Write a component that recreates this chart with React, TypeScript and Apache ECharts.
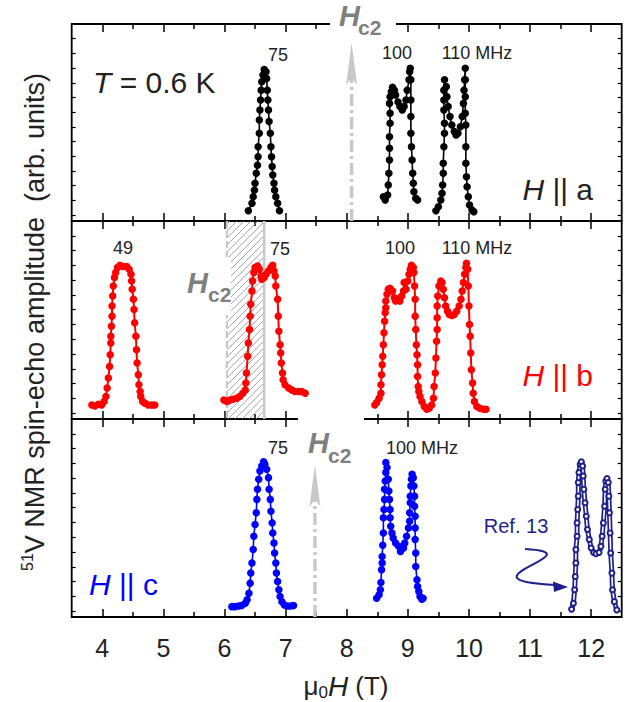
import React, { useEffect, useRef } from "react";
import * as echarts from "echarts";

// ---------- axes ----------
const xTicksMajor = [4, 5, 6, 7, 8, 9, 10, 11, 12];
const xTicksMinor = [4.5, 5.5, 6.5, 7.5, 8.5, 9.5, 10.5, 11.5];
const yTicks = [0.4, 1.4, 2.4, 3.4, 4.4, 5.4, 6.4, 7.4, 8.4, 9.4, 10.4, 11.4, 12.4];

// ---------- H || a (black) ----------
const a75 = [[6.39,0.7],[6.45,1.2],[6.47,1.65],[6.49,2.1],[6.5,2.56],[6.52,3.24],[6.54,3.8],[6.55,4.37],[6.55,5.05],[6.57,5.97],[6.57,6.87],[6.58,7.55],[6.59,8.23],[6.6,8.9],[6.61,9.48],[6.63,9.93],[6.65,10.3],[6.68,10.16],[6.69,9.7],[6.7,8.9],[6.71,8.23],[6.72,7.55],[6.73,6.76],[6.75,5.97],[6.76,5.05],[6.77,4.37],[6.78,3.7],[6.79,3.13],[6.81,2.56],[6.82,2.1],[6.84,1.65],[6.87,1.2],[6.9,0.7]];
const a100 = [[8.6,1.65],[8.63,1.43],[8.67,1.77],[8.68,2.45],[8.69,3.24],[8.7,4.15],[8.7,4.95],[8.7,5.73],[8.71,6.65],[8.71,7.33],[8.7,8.0],[8.71,8.45],[8.73,8.8],[8.75,9.1],[8.78,8.9],[8.8,8.57],[8.84,8.1],[8.87,7.78],[8.91,7.55],[8.94,7.78],[8.97,8.23],[8.99,8.9],[9.02,9.6],[9.03,10.16],[9.04,10.39],[9.05,9.6],[9.05,8.23],[9.05,7.1],[9.05,5.97],[9.06,5.05],[9.07,4.15],[9.08,3.24],[9.09,2.56],[9.1,1.99],[9.13,1.54],[9.16,1.43]];
const a110 = [[9.46,0.7],[9.5,0.97],[9.54,1.43],[9.56,1.88],[9.57,2.45],[9.58,3.24],[9.58,3.92],[9.59,5.05],[9.6,5.97],[9.6,6.65],[9.59,7.55],[9.59,8.23],[9.59,8.9],[9.6,9.6],[9.63,9.14],[9.64,8.45],[9.66,7.78],[9.69,7.1],[9.72,6.53],[9.76,6.08],[9.79,5.85],[9.82,5.97],[9.86,6.41],[9.89,7.1],[9.91,8.0],[9.92,8.9],[9.93,9.6],[9.94,10.39],[9.94,9.6],[9.94,8.45],[9.94,7.33],[9.95,6.53],[9.95,5.05],[9.95,3.92],[9.96,3.01],[9.97,2.33],[9.99,1.65],[10.01,1.09],[10.05,0.75],[10.08,0.63]];

// ---------- H || b (red) ----------
const b49 = [[3.83,0.95],[3.88,0.88],[3.94,1.0],[3.99,0.95],[4.03,1.18],[4.06,1.52],[4.08,2.09],[4.1,2.77],[4.12,3.56],[4.13,4.35],[4.14,5.15],[4.14,5.6],[4.15,6.28],[4.16,6.96],[4.16,7.64],[4.17,8.32],[4.18,9.0],[4.2,9.57],[4.22,9.91],[4.25,10.25],[4.29,10.41],[4.34,10.32],[4.4,10.32],[4.44,10.14],[4.47,9.8],[4.48,9.34],[4.49,8.78],[4.51,8.1],[4.52,7.41],[4.53,6.51],[4.55,5.6],[4.56,4.69],[4.57,3.79],[4.59,2.99],[4.6,2.31],[4.62,1.86],[4.63,1.52],[4.66,1.18],[4.7,1.07],[4.75,0.95],[4.81,0.95],[4.86,0.95]];
const b75 = [[5.99,1.29],[6.04,1.18],[6.09,1.29],[6.14,1.34],[6.2,1.41],[6.25,1.52],[6.3,1.75],[6.34,1.97],[6.35,2.43],[6.36,3.11],[6.38,4.24],[6.39,5.15],[6.41,6.05],[6.42,6.96],[6.43,7.76],[6.45,8.66],[6.46,9.34],[6.48,9.91],[6.5,10.25],[6.54,10.36],[6.57,10.14],[6.6,9.68],[6.61,9.46],[6.65,9.57],[6.68,9.8],[6.72,10.02],[6.76,10.25],[6.79,10.41],[6.81,10.02],[6.83,9.68],[6.84,9.0],[6.87,8.1],[6.88,6.96],[6.89,5.94],[6.91,5.03],[6.92,4.47],[6.93,3.79],[6.95,3.11],[6.96,2.65],[6.99,2.31],[7.05,2.09],[7.1,1.97],[7.15,1.86],[7.21,1.86],[7.26,1.86],[7.32,1.75]];
const b100 = [[8.46,0.95],[8.49,1.11],[8.53,1.41],[8.56,1.75],[8.56,2.31],[8.57,2.99],[8.58,3.67],[8.59,4.24],[8.6,5.03],[8.61,5.83],[8.62,6.62],[8.63,7.19],[8.64,7.53],[8.64,7.98],[8.66,8.44],[8.68,8.78],[8.71,8.84],[8.75,8.66],[8.78,8.21],[8.8,7.98],[8.85,8.14],[8.87,7.98],[8.9,8.32],[8.93,8.66],[8.94,9.23],[8.97,8.78],[9.0,9.34],[9.02,9.8],[9.04,10.14],[9.06,10.41],[9.09,10.25],[9.1,9.91],[9.11,9.0],[9.12,8.1],[9.12,6.96],[9.13,6.05],[9.14,5.03],[9.15,4.35],[9.16,3.67],[9.16,2.88],[9.17,2.2],[9.18,1.86],[9.2,1.52],[9.23,1.18],[9.27,0.84],[9.31,0.66],[9.35,0.73],[9.39,0.95],[9.42,1.41],[9.43,2.2],[9.45,3.11],[9.46,4.13],[9.47,5.26],[9.48,6.05],[9.48,6.85],[9.48,7.64],[9.49,8.32],[9.51,9.0],[9.54,9.34],[9.56,9.23],[9.58,8.78],[9.6,8.21],[9.62,7.64],[9.65,7.3],[9.68,7.07],[9.72,7.0],[9.76,7.07],[9.8,7.3],[9.84,7.64],[9.87,8.1],[9.89,8.66],[9.91,9.23],[9.93,9.8],[9.95,10.25],[9.96,10.54],[9.98,10.14],[9.99,9.0],[10.0,7.64],[10.01,6.39],[10.02,5.6],[10.03,4.47],[10.04,3.33],[10.06,2.43],[10.07,1.75],[10.09,1.18],[10.13,0.84],[10.18,0.73],[10.24,0.66],[10.28,0.66]];

// ---------- H || c (blue) ----------
const c75 = [[6.12,0.7],[6.17,0.7],[6.23,0.75],[6.28,0.77],[6.34,0.93],[6.37,1.16],[6.4,1.61],[6.42,2.29],[6.43,2.97],[6.45,3.65],[6.47,4.56],[6.48,5.46],[6.5,6.26],[6.52,7.05],[6.53,7.96],[6.54,8.64],[6.56,9.32],[6.58,9.88],[6.61,10.22],[6.64,10.5],[6.66,10.34],[6.69,10.0],[6.72,9.43],[6.73,8.64],[6.75,7.96],[6.76,7.16],[6.78,6.37],[6.79,5.69],[6.81,5.01],[6.82,4.33],[6.84,3.65],[6.85,2.97],[6.87,2.4],[6.89,1.84],[6.91,1.38],[6.94,1.04],[6.98,0.82],[7.03,0.75],[7.08,0.75],[7.13,0.77]];
const c100 = [[8.49,1.27],[8.53,1.5],[8.55,1.84],[8.56,2.33],[8.57,3.2],[8.58,3.65],[8.58,4.1],[8.59,4.85],[8.6,5.69],[8.6,6.71],[8.61,7.28],[8.62,7.96],[8.62,8.64],[8.63,9.2],[8.64,9.78],[8.64,10.46],[8.66,10.12],[8.68,9.32],[8.69,8.52],[8.7,7.96],[8.71,7.28],[8.71,6.71],[8.72,6.14],[8.74,5.69],[8.76,5.35],[8.8,5.01],[8.85,4.78],[8.88,4.44],[8.93,4.67],[8.95,5.01],[8.98,5.46],[9.01,6.03],[9.03,6.48],[9.03,7.05],[9.04,7.73],[9.04,8.18],[9.05,8.86],[9.06,9.32],[9.07,9.66],[9.09,9.43],[9.1,8.86],[9.11,8.18],[9.11,7.5],[9.12,6.82],[9.12,6.03],[9.12,5.24],[9.13,4.33],[9.13,3.42],[9.15,2.52],[9.16,2.06],[9.18,1.72],[9.2,1.38],[9.23,1.2],[9.25,1.27]];
const ref13 = [[11.68,0.52],[11.71,0.93],[11.73,1.84],[11.74,2.74],[11.75,3.65],[11.75,4.56],[11.77,5.46],[11.77,6.37],[11.78,7.28],[11.79,8.18],[11.79,9.1],[11.8,9.78],[11.82,10.34],[11.84,10.5],[11.86,10.22],[11.87,9.54],[11.88,8.64],[11.9,7.73],[11.92,6.82],[11.94,5.92],[11.97,5.24],[12.0,4.67],[12.04,4.37],[12.08,4.29],[12.13,4.37],[12.16,4.78],[12.18,5.46],[12.2,6.37],[12.22,7.5],[12.23,8.64],[12.24,9.2],[12.26,9.37],[12.28,9.1],[12.29,8.18],[12.3,7.05],[12.31,5.69],[12.32,4.33],[12.34,2.97],[12.35,1.84],[12.38,1.04],[12.42,0.48]];

// ---------- Hc2 markers (field, arrow-tip height) ----------
const hc2A = [8.08, 12.1];
const hc2B = [6.04, 6.65];
const hc2C = [7.48, 10.28];

const FONT = "'Liberation Sans', Arial, Helvetica, sans-serif";
const BLACK = "#000000";
const RED = "#ff0000";
const BLUE = "#0000ff";
const NAVY = "#1f1f8c";
const GREY = "#c8c8c8";
const HGREY = "#7f7f7f";
const INK = "#222222";

function T(x: number, y: number, text: string, o: any = {}) {
  return {
    type: "text",
    x,
    y,
    z: 200,
    silent: true,
    style: {
      text,
      fill: o.fill || INK,
      fontSize: o.fontSize || 18,
      fontFamily: FONT,
      fontWeight: o.fontWeight || "normal",
      fontStyle: o.fontStyle || "normal",
      align: o.align || "center",
      textAlign: o.align || "center",
      verticalAlign: "middle",
      textVerticalAlign: "middle",
    },
  };
}

function hc2Label(hx: number, hy: number, sx: number, sy: number) {
  return [
    T(hx, hy, "H", { fill: HGREY, fontSize: 29, fontWeight: "bold", fontStyle: "italic", align: "left" }),
    T(sx, sy, "c2", { fill: HGREY, fontSize: 21, fontWeight: "bold", align: "left" }),
  ];
}

export default function App() {
  const ref = useRef<HTMLDivElement>(null);
  useEffect(() => {
    if (!ref.current) return;
    const chart = echarts.init(ref.current, null, { renderer: "svg" });

    const grids = [
      { left: 71.7, width: 550, top: 24, height: 197 },
      { left: 71.7, width: 550, top: 221, height: 198 },
      { left: 71.7, width: 550, top: 419, height: 198 },
    ].map((g) => ({ ...g, show: true, borderColor: "#000", borderWidth: 1.8, backgroundColor: "transparent" }));

    const xAxes: any[] = [];
    for (let gi = 0; gi < 3; gi++) {
      for (const pos of ["bottom", "top"]) {
        for (const major of [true, false]) {
          xAxes.push({
            type: "value",
            gridIndex: gi,
            position: pos,
            min: 3.5,
            max: 12.5,
            axisLine: { show: false },
            splitLine: { show: false },
            axisTick: {
              show: true,
              inside: true,
              length: major ? 8 : 5,
              customValues: major ? xTicksMajor : xTicksMinor,
              lineStyle: { color: "#000", width: 1.5 },
            },
            axisLabel: {
              show: gi === 2 && pos === "bottom" && major,
              customValues: xTicksMajor,
              fontSize: 25,
              fontFamily: FONT,
              color: INK,
              margin: 18,
            },
          });
        }
      }
    }
    const yAxes: any[] = [];
    for (let gi = 0; gi < 3; gi++) {
      for (const pos of ["left", "right"]) {
        yAxes.push({
          type: "value",
          gridIndex: gi,
          position: pos,
          min: 0,
          max: 13.4,
          axisLine: { show: false },
          splitLine: { show: false },
          axisLabel: { show: false },
          axisTick: { show: true, inside: true, length: 4, customValues: yTicks, lineStyle: { color: "#000", width: 1.2 } },
        });
      }
    }

    const dots = (data: number[][], color: string, gi: number, extra: any = {}) => ({
      type: "line",
      xAxisIndex: gi * 4,
      yAxisIndex: gi * 2,
      data,
      symbol: "circle",
      symbolSize: 7.5,
      showSymbol: true,
      silent: true,
      z: 3,
      lineStyle: { color, width: 1.6 },
      itemStyle: { color },
      ...extra,
    });

    const arrowSeries = (gi: number, pt: number[]) => ({
      type: "custom",
      xAxisIndex: gi * 4,
      yAxisIndex: gi * 2,
      clip: false,
      silent: true,
      z: 2,
      data: [pt],
      renderItem: (params: any, api: any) => {
        const b = api.coord([api.value(0), 0]);
        const t = api.coord([api.value(0), api.value(1)]);
        return {
          type: "group",
          children: [
            {
              type: "line",
              shape: { x1: b[0], y1: b[1], x2: t[0], y2: t[1] + 32 },
              style: { stroke: GREY, lineWidth: 3.5, lineDash: [12, 4, 3, 4] },
            },
            {
              type: "polygon",
              shape: { points: [[t[0], t[1]], [t[0] - 5.5, t[1] + 42], [t[0], t[1] + 34], [t[0] + 5.5, t[1] + 42]] },
              style: { fill: GREY },
            },
          ],
        };
      },
    });

    const hatch = {
      type: "custom",
      xAxisIndex: 4,
      yAxisIndex: 2,
      clip: false,
      silent: true,
      z: 1,
      data: [[hc2B[0], hc2B[1]]],
      encode: { x: [0, 1] },
      renderItem: (params: any, api: any) => {
        const x0 = api.value(0);
        const x1 = api.value(1);
        const pTL = api.coord([x0, 13.4]);
        const pBR = api.coord([x1, 0]);
        const xL = pTL[0], yT = pTL[1], xR = pBR[0], yB = pBR[1];
        const children: any[] = [];
        const step = 7;
        for (let c = xL + yT + 3; c < xR + yB; c += step) {
          const xa = Math.max(xL, c - yB);
          const xb = Math.min(xR, c - yT);
          if (xb <= xa) continue;
          children.push({
            type: "line",
            shape: { x1: xa, y1: c - xa, x2: xb, y2: c - xb },
            style: { stroke: "#8c8c8c", lineWidth: 0.8 },
          });
        }
        children.push({
          type: "line",
          shape: { x1: xL, y1: yT, x2: xL, y2: yB },
          style: { stroke: GREY, lineWidth: 2.2, lineDash: [7, 3] },
        });
        children.push({
          type: "line",
          shape: { x1: xR, y1: yT, x2: xR, y2: yB },
          style: { stroke: GREY, lineWidth: 2.5 },
        });
        return { type: "group", children };
      },
    };

    const series: any[] = [
      arrowSeries(0, hc2A),
      dots(a75, BLACK, 0),
      dots(a100, BLACK, 0),
      dots(a110, BLACK, 0),
      hatch,
      dots(b49, RED, 1, { lineStyle: { color: RED, width: 2 } }),
      dots(b75, RED, 1, { lineStyle: { color: RED, width: 2 } }),
      dots(b100, RED, 1, { lineStyle: { color: RED, width: 2 } }),
      arrowSeries(2, hc2C),
      dots(c75, BLUE, 2),
      dots(c100, BLUE, 2),
      {
        type: "line",
        xAxisIndex: 8,
        yAxisIndex: 4,
        data: ref13,
        symbol: "none",
        silent: true,
        z: 3,
        lineStyle: { color: NAVY, width: 5 },
      },
      {
        type: "line",
        xAxisIndex: 8,
        yAxisIndex: 4,
        data: ref13,
        symbol: "emptyCircle",
        symbolSize: 5,
        showSymbol: true,
        silent: true,
        z: 4,
        lineStyle: { color: "#ffffff", width: 1.6 },
        itemStyle: { color: NAVY, borderColor: NAVY, borderWidth: 1 },
      },
    ];

    const elements: any[] = [
      // gaps in frame lines
      { type: "rect", z: 150, silent: true, shape: { x: 330, y: 15, width: 66, height: 18 }, style: { fill: "#fff" } },
      { type: "rect", z: 150, silent: true, shape: { x: 298, y: 410, width: 66, height: 18 }, style: { fill: "#fff" } },
      { type: "rect", z: 150, silent: true, shape: { x: 184, y: 257, width: 47, height: 58 }, style: { fill: "#fff" } },
      ...hc2Label(339, 16, 358, 27),
      ...hc2Label(187, 283, 208, 294),
      ...hc2Label(308, 443, 328, 455),
      // frequency labels
      T(278, 55, "75"),
      T(397, 53, "100"),
      T(477, 53, "110 MHz"),
      T(123, 248, "49"),
      T(280, 249, "75"),
      T(400, 248, "100"),
      T(477, 248, "110 MHz"),
      T(278, 448, "75"),
      T(422, 448, "100 MHz"),
      {
        type: "text",
        x: 93,
        y: 82,
        z: 200,
        silent: true,
        style: {
          text: "{i|T}{n| = 0.6 K}",
          align: "left",
          textAlign: "left",
          verticalAlign: "middle",
          textVerticalAlign: "middle",
          fill: INK,
          fontSize: 30,
          fontFamily: FONT,
          rich: {
            i: { fontSize: 30, fontStyle: "italic", fontFamily: FONT, fill: INK },
            n: { fontSize: 30, fontFamily: FONT, fill: INK },
          },
        },
      },
      ...[
        { x: 593, y: 189, c: INK, l: "a", a: "right" },
        { x: 593, y: 375, c: RED, l: "b", a: "right" },
        { x: 89, y: 584, c: BLUE, l: "c", a: "left" },
      ].map((p) => ({
        type: "text",
        x: p.x,
        y: p.y,
        z: 200,
        silent: true,
        style: {
          text: "{i|H}{n| || " + p.l + "}",
          align: p.a,
          textAlign: p.a,
          verticalAlign: "middle",
          textVerticalAlign: "middle",
          fill: p.c,
          fontSize: 30,
          fontFamily: FONT,
          rich: {
            i: { fontSize: 30, fontStyle: "italic", fontFamily: FONT, fill: p.c },
            n: { fontSize: 30, fontFamily: FONT, fill: p.c },
          },
        },
      })),
      // Ref. 13 annotation
      T(516, 526, "Ref. 13", { fill: NAVY, fontSize: 20 }),
      {
        type: "bezierCurve",
        z: 200,
        silent: true,
        shape: { x1: 525, y1: 549, cpx1: 600, cpy1: 553, cpx2: 450, cpy2: 580, x2: 556, y2: 585 },
        style: { stroke: NAVY, lineWidth: 2, fill: null },
      },
      {
        type: "polygon",
        z: 200,
        silent: true,
        shape: { points: [[568, 587], [553, 581.5], [554, 592]] },
        style: { fill: NAVY },
      },
      // axis titles
      {
        type: "text",
        x: 35,
        y: 322,
        z: 200,
        silent: true,
        rotation: Math.PI / 2,
        style: {
          text: "{s|51}{n|V NMR spin-echo amplitude  (arb. units)}",
          align: "center",
          textAlign: "center",
          verticalAlign: "middle",
          textVerticalAlign: "middle",
          fill: INK,
          fontSize: 27,
          fontFamily: FONT,
          rich: {
            s: { fontSize: 16, lineHeight: 16, verticalAlign: "top", fontFamily: FONT, fill: INK },
            n: { fontSize: 27, lineHeight: 32, fontFamily: FONT, fill: INK },
          },
        },
      },
      {
        type: "text",
        x: 346,
        y: 686,
        z: 200,
        silent: true,
        style: {
          text: "{n|\u03bc}{s|0}{i|H}{n| (T)}",
          align: "center",
          textAlign: "center",
          verticalAlign: "middle",
          textVerticalAlign: "middle",
          fill: INK,
          fontSize: 26,
          fontFamily: FONT,
          rich: {
            n: { fontSize: 26, lineHeight: 30, fontFamily: FONT, fill: INK },
            i: { fontSize: 28, lineHeight: 30, fontStyle: "italic", fontFamily: FONT, fill: INK },
            s: { fontSize: 17, lineHeight: 17, verticalAlign: "bottom", fontFamily: FONT, fill: INK },
          },
        },
      },
    ];

    chart.setOption({
      animation: false,
      backgroundColor: "#ffffff",
      grid: grids,
      xAxis: xAxes,
      yAxis: yAxes,
      series,
      graphic: { elements },
    });
    return () => chart.dispose();
  }, []);
  return <div ref={ref} style={{ position: "absolute", left: 0, top: 0, width: 635, height: 702 }} />;
}
